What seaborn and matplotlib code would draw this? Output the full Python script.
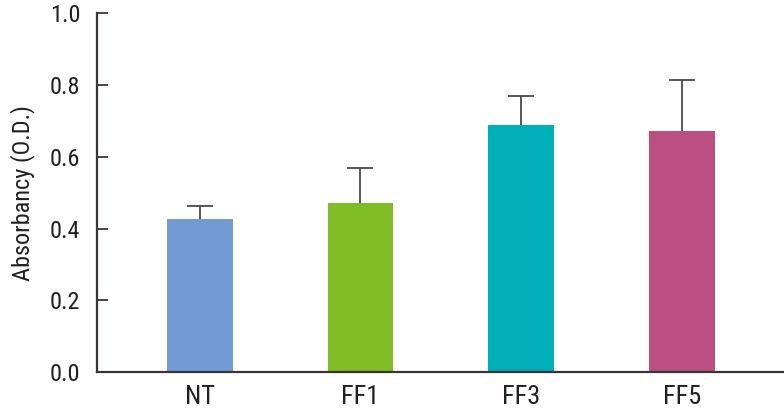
import matplotlib
matplotlib.use("Agg")
import matplotlib.pyplot as plt
from matplotlib import font_manager
import seaborn as sns
import pandas as pd
import numpy as np

groups = ["NT", "FF1", "FF3", "FF5"]
absorbance = [0.428, 0.470, 0.689, 0.672]
sd_upper = [0.036, 0.099, 0.082, 0.141]
colors = ["#729BD3", "#80BD26", "#00AFB8", "#BC4F82"]
y_ticks = [0.0, 0.2, 0.4, 0.6, 0.8, 1.0]

sns.set_theme(style="white")
names = {f.name for f in font_manager.fontManager.ttflist}
stretch = "normal"
family = "DejaVu Sans"
for cand in ["Liberation Sans Narrow", "Roboto Condensed", "Open Sans Condensed"]:
    if cand in names:
        family = cand
        break
else:
    stretch = "condensed"
plt.rcParams["font.family"] = [family, "DejaVu Sans"]
plt.rcParams["font.stretch"] = stretch

df = pd.DataFrame({"group": groups, "value": absorbance})

fig = plt.figure(figsize=(7.84, 4.18), dpi=100)
ax = fig.add_axes([0.1237, 0.110, 0.875, 0.858])

sns.barplot(data=df, x="group", y="value", hue="group", palette=colors,
            order=groups, hue_order=groups, errorbar=None, width=0.41,
            legend=False, ax=ax, saturation=1, linewidth=0)

xpos = np.arange(len(groups))
eb = ax.errorbar(xpos, absorbance, yerr=[np.zeros(len(groups)), sd_upper],
                 fmt="none", ecolor="#4a4a4a", elinewidth=1.3, capsize=9.5,
                 capthick=1.3, zorder=3)
caplines = eb.lines[1]
if len(caplines) >= 2:
    caplines[0].set_visible(False)

ax.set_ylim(0, 1.0)
ax.set_xlim(-0.64, 3.63)
ax.set_yticks(y_ticks)
ax.set_yticklabels([f"{t:.1f}" for t in y_ticks], fontsize=17.5, color="#231f20")
ax.set_xticks(xpos)
ax.set_xticklabels(groups, fontsize=19, color="#231f20")
ax.set_xlabel("")
ax.set_ylabel("Absorbancy (O.D.)", fontsize=17.5, color="#231f20", labelpad=11)

for s in ["top", "right"]:
    ax.spines[s].set_visible(False)
for s in ["left", "bottom"]:
    ax.spines[s].set_color("#3a3434")
    ax.spines[s].set_linewidth(1.6)

ax.tick_params(axis="y", direction="in", length=8, width=1.3, color="#3a3434",
               left=True, pad=12)
ax.tick_params(axis="x", length=0, pad=9)

fig.savefig("out.png", dpi=100)
